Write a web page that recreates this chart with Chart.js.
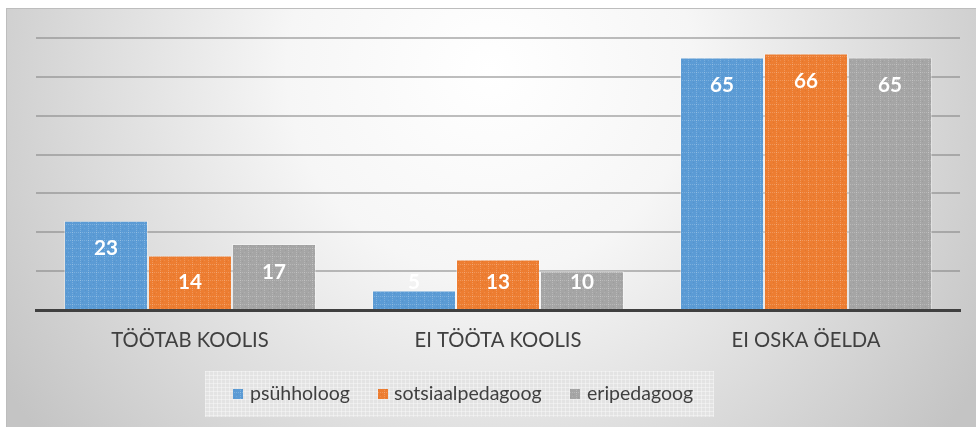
<!DOCTYPE html>
<html>
<head>
<meta charset="utf-8">
<script src="https://cdn.jsdelivr.net/npm/chart.js@4.4.1/dist/chart.umd.min.js"></script>
<style>
html,body{margin:0;padding:0;background:#fff;}
#wrap{width:976px;height:427px;position:relative;}
</style>
</head>
<body>
<div id="wrap"><canvas id="c" width="976" height="427"></canvas></div>
<script>
const categories = ["TÖÖTAB KOOLIS", "EI TÖÖTA KOOLIS", "EI OSKA ÖELDA"];
const seriesNames = ["psühholoog", "sotsiaalpedagoog", "eripedagoog"];
const psuhholoog = [23, 5, 65];
const sotsiaalpedagoog = [14, 13, 66];
const eripedagoog = [17, 10, 65];
const seriesColors = ["#5b9bd5", "#ed7d31", "#a5a5a5"];
const yMax = 70, yStep = 10;

const FONT = "Lato, 'Open Sans', 'DejaVu Sans', sans-serif";
const TEXT = "#404040";

function fitSize(text, weight, target) {
  const c = document.createElement('canvas').getContext('2d');
  c.font = weight + " 20px " + FONT;
  const w = c.measureText(text).width;
  return +(20 * target / w).toFixed(2);
}
const catSize = fitSize("EI TÖÖTA KOOLIS", "normal", 167);
const legSize = fitSize("psühholoog", "normal", 100);
const valSize = fitSize("23", "bold", 24);

function makePattern(color) {
  const t = document.createElement('canvas');
  t.width = 8; t.height = 8;
  const g = t.getContext('2d');
  g.fillStyle = color; g.fillRect(0, 0, 8, 8);
  g.fillStyle = 'rgba(255,255,255,0.2)';
  for (let i = 0; i < 8; i += 2) { g.fillRect(i, 0, 1, 1); g.fillRect(0, i, 1, 1); }
  g.fillStyle = 'rgba(255,255,255,0.12)';
  g.fillRect(4, 4, 1, 1);
  g.fillStyle = 'rgba(0,0,0,0.05)';
  g.fillRect(2, 5, 1, 1); g.fillRect(5, 2, 1, 1);
  return g.createPattern(t, 'repeat');
}

const bgPlugin = {
  id: 'bg',
  beforeDraw(chart) {
    const ctx = chart.ctx;
    ctx.save();
    ctx.fillStyle = '#ffffff';
    ctx.fillRect(0, 0, chart.width, chart.height);
    const gr = ctx.createRadialGradient(490, 70, 0, 490, 70, 580);
    gr.addColorStop(0, '#ffffff');
    gr.addColorStop(0.35, '#f6f6f6');
    gr.addColorStop(1, '#c4c4c4');
    ctx.fillStyle = gr;
    ctx.fillRect(6, 8, chart.width - 6, chart.height - 8);
    ctx.fillStyle = '#bdbdbd';
    ctx.fillRect(6, 8, chart.width - 6, 1);
    ctx.fillRect(6, 8, 1, chart.height - 8);
    ctx.restore();
  }
};

const labelPlugin = {
  id: 'vals',
  afterDatasetsDraw(chart) {
    const ctx = chart.ctx;
    ctx.save();
    ctx.font = "bold " + valSize + "px " + FONT;
    ctx.fillStyle = '#ffffff';
    ctx.textAlign = 'center';
    ctx.textBaseline = 'middle';
    chart.data.datasets.forEach((ds, di) => {
      chart.getDatasetMeta(di).data.forEach((bar, i) => {
        const y = Math.min(bar.y + 28, bar.base - 27);
        ctx.fillText(String(ds.data[i]), bar.x, y);
      });
    });
    ctx.restore();
  }
};

const legendPlugin = {
  id: 'customLegend',
  afterDraw(chart) {
    const ctx = chart.ctx;
    ctx.save();
    const lx = 205, ly = 371, lw = 509, lh = 46;
    ctx.fillStyle = '#e3e3e3';
    ctx.fillRect(lx, ly, lw, lh);
    ctx.fillStyle = 'rgba(255,255,255,0.35)';
    for (let x = lx; x < lx + lw; x += 4) ctx.fillRect(x, ly, 1, lh);
    for (let y = ly; y < ly + lh; y += 4) ctx.fillRect(lx, y, lw, 1);
    ctx.font = legSize + "px " + FONT;
    ctx.textBaseline = 'middle';
    ctx.textAlign = 'left';
    const boxX = [233, 378, 570];
    const textX = [250, 394, 587];
    const cy = 394;
    seriesNames.forEach((n, i) => {
      ctx.fillStyle = chart.data.datasets[i].backgroundColor;
      ctx.fillRect(boxX[i], cy - 5, 10, 10);
      ctx.fillStyle = TEXT;
      ctx.fillText(n, textX[i], cy);
    });
    ctx.restore();
  }
};

const datasets = [psuhholoog, sotsiaalpedagoog, eripedagoog].map((d, i) => ({
  label: seriesNames[i],
  data: d,
  backgroundColor: makePattern(seriesColors[i]),
  borderColor: 'rgba(255,255,255,0.35)',
  borderWidth: 1,
  categoryPercentage: 0.818,
  barPercentage: 1.0
}));

new Chart(document.getElementById('c'), {
  type: 'bar',
  data: { labels: categories, datasets },
  options: {
    responsive: false,
    animation: false,
    devicePixelRatio: 1,
    layout: { padding: { left: 36, right: 16, top: 38, bottom: 0 } },
    plugins: { legend: { display: false }, tooltip: { enabled: false } },
    scales: {
      x: {
        grid: { display: false, drawTicks: false },
        border: { display: true, color: '#404040', width: 3 },
        ticks: { color: TEXT, font: { family: FONT, size: catSize }, padding: 18 },
        afterFit(s) { s.height = 117; }
      },
      y: {
        min: 0, max: yMax,
        ticks: { display: false, stepSize: yStep },
        grid: { color: 'rgba(125,125,125,0.5)', lineWidth: 2, drawTicks: false },
        border: { display: false },
        afterFit(s) { s.width = 0; }
      }
    }
  },
  plugins: [bgPlugin, labelPlugin, legendPlugin]
});
</script>
</body>
</html>
